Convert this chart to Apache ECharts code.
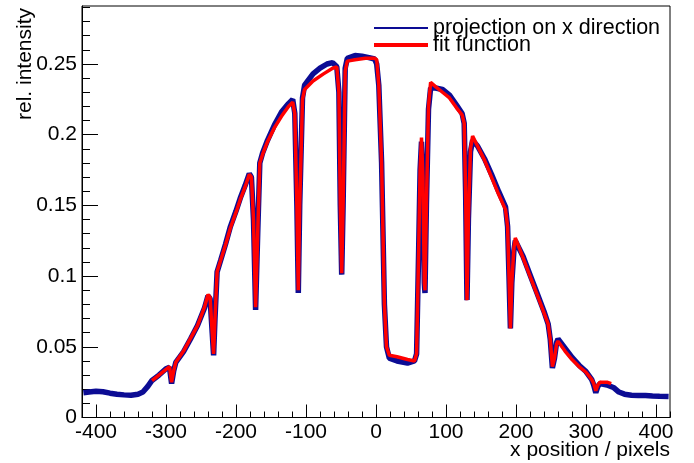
<!DOCTYPE html>
<html>
<head>
<meta charset="utf-8">
<script src="https://cdn.jsdelivr.net/npm/echarts@6/dist/echarts.min.js"></script>
<style>html,body{margin:0;padding:0;background:#fff}#c{width:694px;height:463px}</style>
</head>
<body>
<div id="c"></div>
<script>
// ---- data ----
const projX = [-418,-410,-400,-390,-380,-370,-360,-350,-340,-333,-326,-320,-310,-300,-295,-292,-289,-286,-275,-265,-255,-245,-240,-237,-234,-232,-230,-227,-222,-215,-208,-200,-194,-187,-181,-178,-175,-172,-169,-166,-162,-155,-145,-135,-125,-119,-116,-113,-111,-109,-105,-102,-90,-80,-70,-62,-56,-53,-51,-49,-47,-44,-41,-30,-20,-10,-2,1,4,8,12,15,19,30,45,55,58,61,63,65,67,69,70,72,75,78,85,95,105,115,123,126,128,130,132,135,138,145,155,165,175,185,188,190,192,194,197,199,210,220,230,240,246,249,252,255,258,260,270,280,290,300,308,311,314,317,320,330,340,347,355,365,375,385,395,405,418];
const projY = [0.0175,0.0180,0.0185,0.0182,0.0172,0.0165,0.0160,0.0158,0.0165,0.0180,0.0220,0.0262,0.0300,0.0345,0.0355,0.0240,0.0330,0.0390,0.0465,0.0555,0.0650,0.0775,0.0860,0.0840,0.0600,0.0440,0.0700,0.1030,0.1110,0.1225,0.1350,0.1460,0.1550,0.1640,0.1725,0.1700,0.1400,0.0760,0.1300,0.1800,0.1870,0.1960,0.2070,0.2160,0.2220,0.2250,0.2150,0.1500,0.0880,0.1500,0.2260,0.2350,0.2430,0.2470,0.2500,0.2510,0.2480,0.2300,0.1500,0.1010,0.1500,0.2470,0.2540,0.2560,0.2555,0.2545,0.2535,0.2500,0.2350,0.1800,0.0800,0.0500,0.0420,0.0400,0.0385,0.0400,0.0450,0.1200,0.1750,0.1950,0.1700,0.0950,0.0880,0.1500,0.2180,0.2330,0.2330,0.2320,0.2280,0.2210,0.2150,0.2080,0.1600,0.0830,0.1400,0.1880,0.1960,0.1920,0.1830,0.1720,0.1600,0.1490,0.1350,0.1000,0.0630,0.0950,0.1180,0.1250,0.1140,0.1010,0.0880,0.0750,0.0660,0.0550,0.0350,0.0420,0.0530,0.0555,0.0490,0.0425,0.0370,0.0325,0.0270,0.0230,0.0175,0.0220,0.0240,0.0230,0.0210,0.0180,0.0165,0.0158,0.0155,0.0155,0.0152,0.0150,0.0148];

const fitX = [-320,-310,-300,-295,-292,-289,-286,-275,-265,-255,-245,-240,-237,-234,-232,-230,-227,-222,-215,-208,-200,-194,-187,-181,-178,-175,-172,-169,-166,-162,-155,-145,-135,-125,-119,-116,-113,-111,-109,-105,-102,-90,-75,-62,-56,-53,-51,-49,-47,-44,-41,-30,-15,-2,1,4,8,12,15,19,30,45,55,58,61,63,65,67,69,70,72,75,78,85,95,105,115,123,126,128,130,132,135,138,145,155,165,175,185,188,190,192,194,197,199,210,220,230,240,246,249,252,255,258,260,270,280,290,300,308,311,314,317,320,330,336];
const fitY = [0.026,0.030,0.034,0.036,0.025,0.033,0.039,0.047,0.056,0.065,0.078,0.087,0.085,0.060,0.045,0.070,0.103,0.111,0.122,0.134,0.145,0.154,0.163,0.172,0.170,0.140,0.078,0.130,0.180,0.186,0.195,0.205,0.213,0.220,0.223,0.215,0.150,0.090,0.150,0.225,0.232,0.238,0.243,0.247,0.248,0.230,0.150,0.102,0.150,0.245,0.252,0.253,0.254,0.254,0.253,0.235,0.180,0.080,0.050,0.044,0.043,0.041,0.040,0.045,0.120,0.175,0.198,0.170,0.095,0.090,0.150,0.220,0.237,0.234,0.230,0.226,0.219,0.214,0.208,0.160,0.083,0.140,0.190,0.199,0.192,0.182,0.170,0.158,0.147,0.135,0.100,0.063,0.095,0.120,0.127,0.113,0.100,0.087,0.074,0.066,0.055,0.036,0.042,0.052,0.054,0.047,0.041,0.036,0.032,0.027,0.024,0.019,0.023,0.025,0.025,0.024];

const xMajor = [-400,-300,-200,-100,0,100,200,300,400];
const xMinor = [-420,-400,-380,-360,-340,-320,-300,-280,-260,-240,-220,-200,-180,-160,-140,-120,-100,-80,-60,-40,-20,0,20,40,60,80,100,120,140,160,180,200,220,240,260,280,300,320,340,360,380,400,420];
const yMajor = [0,0.05,0.1,0.15,0.2,0.25];
const yMajorLabels = ['0','0.05','0.1','0.15','0.2','0.25'];
const yMinor = [0,0.01,0.02,0.03,0.04,0.05,0.06,0.07,0.08,0.09,0.1,0.11,0.12,0.13,0.14,0.15,0.16,0.17,0.18,0.19,0.2,0.21,0.22,0.23,0.24,0.25,0.26,0.27,0.28,0.29];
const seriesNames = ['projection on x direction','fit function'];

const projData = projX.map((x,i)=>[x,projY[i]]);
const fitData = fitX.map((x,i)=>[x,fitY[i]]);

const FONT = 'Liberation Sans, Arial, Helvetica, sans-serif';
const chart = echarts.init(document.getElementById('c'), null, {renderer:'canvas'});
const XMIN=-420, XMAX=420, YMIN=0, YMAX=0.291;

const common = {min:XMIN,max:XMAX,type:'value',splitLine:{show:false}};
chart.setOption({
  animation:false,
  backgroundColor:'#fff',
  grid:{left:82,right:24,top:6,bottom:45.5,show:true,borderColor:'#000',borderWidth:1,containLabel:false},
  xAxis:[
    Object.assign({}, common, {position:'bottom',
      axisLine:{show:true,onZero:false,lineStyle:{color:'#000',width:1}},
      axisTick:{show:true,inside:true,length:6,customValues:xMinor,lineStyle:{color:'#000'}},
      axisLabel:{show:false}}),
    Object.assign({}, common, {position:'bottom',
      axisLine:{show:false,onZero:false},
      axisTick:{show:true,inside:true,length:13,customValues:xMajor,lineStyle:{color:'#000'}},
      axisLabel:{show:true,customValues:xMajor,margin:4,color:'#000',fontSize:21,fontFamily:FONT}})
  ],
  yAxis:[
    {type:'value',min:YMIN,max:YMAX,position:'left',splitLine:{show:false},
      axisLine:{show:true,onZero:false,lineStyle:{color:'#000',width:1}},
      axisTick:{show:true,inside:true,length:8,customValues:yMinor,lineStyle:{color:'#000'}},
      axisLabel:{show:false}},
    {type:'value',min:YMIN,max:YMAX,position:'left',splitLine:{show:false},
      axisLine:{show:false,onZero:false},
      axisTick:{show:true,inside:true,length:16,customValues:yMajor,lineStyle:{color:'#000'}},
      axisLabel:{show:true,customValues:yMajor,margin:5,color:'#000',fontSize:21,fontFamily:FONT,
        formatter:function(v){const i=yMajor.findIndex(t=>Math.abs(t-v)<1e-9);return i>=0?yMajorLabels[i]:'';}}}
  ],
  legend:[
    {data:[seriesNames[0]],left:374,top:17,padding:0,icon:'rect',itemWidth:54,itemHeight:2,itemGap:0,
      textStyle:{fontSize:21.5,fontFamily:FONT,color:'#000'}},
    {data:[seriesNames[1]],left:374,top:34,padding:0,icon:'rect',itemWidth:54,itemHeight:4,itemGap:0,
      textStyle:{fontSize:21.5,fontFamily:FONT,color:'#000'}}
  ],
  graphic:[
    {type:'text',right:24,top:440,style:{text:'x position / pixels',font:'21px '+FONT,fill:'#000',align:'right'}},
    {type:'text',x:25,y:8,rotation:Math.PI/2,style:{text:'rel. intensity',font:'21px '+FONT,fill:'#000',align:'right',verticalAlign:'middle'}}
  ],
  series:[
    {name:seriesNames[0],type:'line',xAxisIndex:0,yAxisIndex:0,data:projData,symbol:'none',showSymbol:false,
      lineStyle:{color:'#0c0c94',width:5.5},itemStyle:{color:'#0c0c94'},z:2},
    {name:seriesNames[1],type:'line',xAxisIndex:0,yAxisIndex:0,data:fitData,symbol:'none',showSymbol:false,
      lineStyle:{color:'#ff0000',width:3.5},itemStyle:{color:'#ff0000'},z:3}
  ]
});
</script>
</body>
</html>
